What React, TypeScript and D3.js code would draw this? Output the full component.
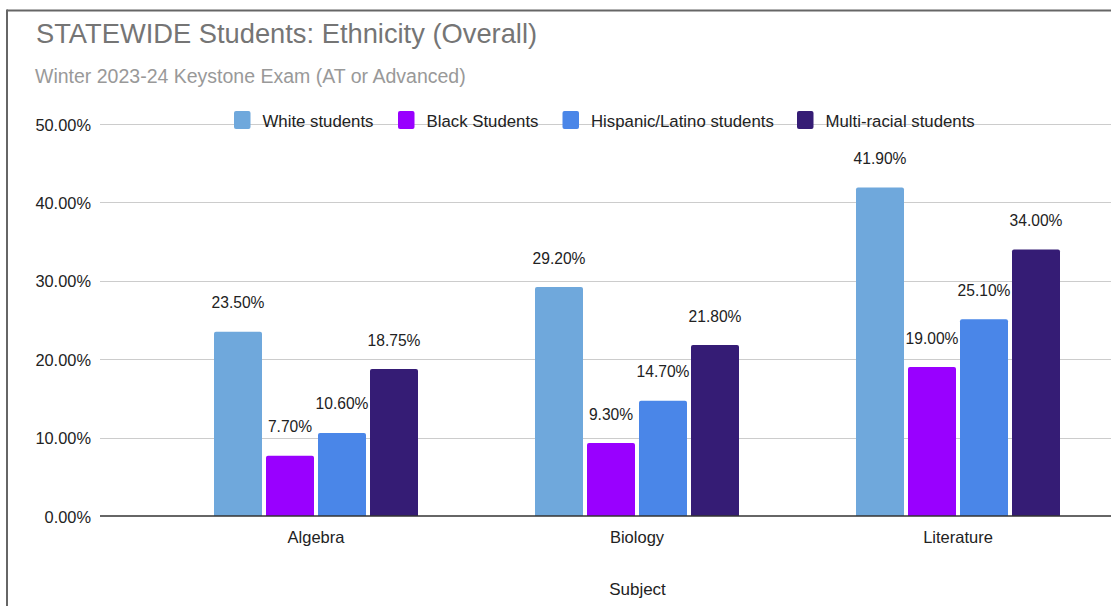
import React from "react";
import * as d3 from "d3";

const subjects = ["Algebra", "Biology", "Literature"];
const seriesNames = ["White students", "Black Students", "Hispanic/Latino students", "Multi-racial students"];
const seriesColors = ["#6fa8dc", "#9900ff", "#4a86e8", "#351c75"];
const whiteVals = [23.5, 29.2, 41.9];
const blackVals = [7.7, 9.3, 19.0];
const hispanicVals = [10.6, 14.7, 25.1];
const multiVals = [18.75, 21.8, 34.0];
const yTicks = [0, 10, 20, 30, 40, 50];

const W = 1111;
const H = 606;
const FONT = "'Liberation Sans', Arial, sans-serif";

export default function App() {
  const seriesVals = [whiteVals, blackVals, hispanicVals, multiVals];
  const y = d3.scaleLinear().domain([0, 50]).range([516, 124]);
  const x = d3.scaleBand<string>().domain(subjects).range([155.5, 1118.5]).paddingInner(0).paddingOuter(0);
  const groupW = 204;
  const inner = d3.scaleBand<number>().domain([0, 1, 2, 3]).range([0, groupW]).paddingInner(4 / 52).paddingOuter(0);
  const legendX = [234, 398, 562.5, 797];

  return (
    <svg width={W} height={H} style={{ position: "absolute", left: 0, top: 0, background: "#fff" }} fontFamily={FONT}>
      <rect x={0} y={0} width={W} height={H} fill="#fff" />
      {/* border */}
      <line x1={7} y1={10.5} x2={W} y2={10.5} stroke="#666" strokeWidth={2} />
      <line x1={7} y1={9.5} x2={7} y2={H} stroke="#666" strokeWidth={2} />

      <text x={36} y={42.5} fontSize={27.3} fill="#757575">STATEWIDE Students: Ethnicity (Overall)</text>
      <text x={35} y={82.5} fontSize={19.5} fill="#999999">Winter 2023-24 Keystone Exam (AT or Advanced)</text>

      {/* gridlines */}
      {yTicks.map((t) => (
        <g key={t}>
          {t !== 0 && <line x1={100} x2={W} y1={Math.round(y(t)) + 0.5} y2={Math.round(y(t)) + 0.5} stroke="#cccccc" strokeWidth={1} />}
          <text x={91} y={y(t) + 6.5} fontSize={16.4} fill="#222" textAnchor="end">{t.toFixed(2)}%</text>
        </g>
      ))}

      {/* bars */}
      {subjects.map((s, i) => {
        const gx = (x(s) as number) + x.bandwidth() / 2 - groupW / 2;
        return (
          <g key={s}>
            {seriesVals.map((vals, k) => {
              const v = vals[i];
              const bx = gx + (inner(k) as number);
              const bw = inner.bandwidth();
              const top = y(v);
              const r = 2;
              const path = `M${bx},${y(0)} L${bx},${top + r} Q${bx},${top} ${bx + r},${top} L${bx + bw - r},${top} Q${bx + bw},${top} ${bx + bw},${top + r} L${bx + bw},${y(0)} Z`;
              return (
                <g key={k}>
                  <path d={path} fill={seriesColors[k]} />
                  <text x={bx + bw / 2} y={top - 23.5} fontSize={15.6} fill="#222" textAnchor="middle">{v.toFixed(2)}%</text>
                </g>
              );
            })}
            <text x={(x(s) as number) + x.bandwidth() / 2} y={543} fontSize={16.5} fill="#222" textAnchor="middle">{s}</text>
          </g>
        );
      })}

      {/* zero line */}
      <line x1={100} x2={W} y1={y(0)} y2={y(0)} stroke="#333" strokeWidth={1.5} />

      {/* legend */}
      {seriesNames.map((n, k) => (
        <g key={n}>
          <rect x={legendX[k]} y={111} width={16.5} height={18} rx={2} fill={seriesColors[k]} />
          <text x={legendX[k] + 28.5} y={126.7} fontSize={16.8} fill="#222">{n}</text>
        </g>
      ))}

      <text x={637.5} y={595} fontSize={17} fill="#222" textAnchor="middle">Subject</text>
    </svg>
  );
}
